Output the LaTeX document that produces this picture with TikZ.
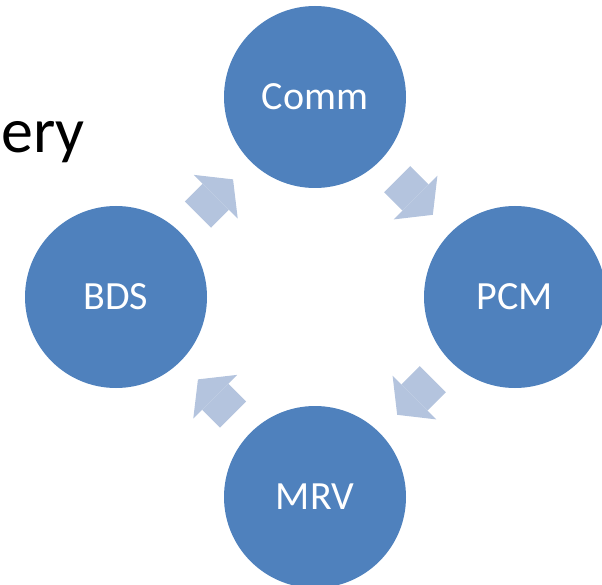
\documentclass[tikz,border=0pt]{standalone}
\usepackage{fontspec}
\setmainfont{Carlito}
\usetikzlibrary{arrows.meta}
\definecolor{circblue}{HTML}{4F81BD}
\definecolor{arrowblue}{HTML}{B4C4DE}

\begin{document}
\begin{tikzpicture}[x=1pt, y=-1pt,
	stage/.style={circle, fill=circblue, minimum size=182pt, inner sep=0pt, text=white, font=\fontsize{40}{48}\selectfont},
	cycarrow/.style={arrowblue, line width=37pt, shorten <=25pt, shorten >=25pt, -{Triangle[length=24.5pt, width=62pt, line width=0pt]}}]
	\useasboundingbox (0,0) rectangle (602,585);
	\node[anchor=base east, inner sep=0pt, font=\fontsize{64}{76}\selectfont] (title) at (85,153) {ery};
	\node[stage] (comm) at (315,97) {Comm};
	\node[stage] (pcm) at (515,297) {PCM};
	\node[stage] (mrv) at (315,497) {MRV};
	\node[stage] (bds) at (116,297) {BDS};
	\draw[cycarrow] (bds) -- (comm);
	\draw[cycarrow] (comm) -- (pcm);
	\draw[cycarrow] (pcm) -- (mrv);
	\draw[cycarrow] (mrv) -- (bds);
\end{tikzpicture}
\end{document}
